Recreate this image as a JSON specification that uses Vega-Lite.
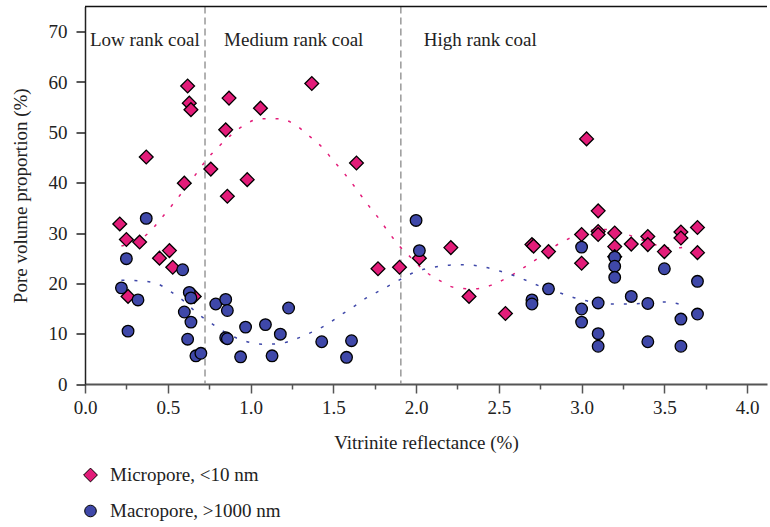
{
  "$schema": "https://vega.github.io/schema/vega-lite/v6.json",
  "width": 682,
  "height": 377.5,
  "autosize": {"type": "none"},
  "padding": {"left": 85, "top": 6.5, "right": 3, "bottom": 143},
  "config": {
    "font": "Liberation Serif",
    "view": {"stroke": null},
    "axis": {"labelFont": "Liberation Serif", "titleFont": "Liberation Serif", "titleFontWeight": "normal", "labelColor": "#222", "titleColor": "#222", "grid": false},
    "legend": {"labelFont": "Liberation Serif", "labelFontSize": 19, "labelColor": "#222", "labelLimit": 0}
  },
  "datasets": {
    "points": [
      {"x": 0.21, "y": 31.8, "type": "Micropore, <10 nm"},
      {"x": 0.25, "y": 28.7, "type": "Micropore, <10 nm"},
      {"x": 0.33, "y": 28.2, "type": "Micropore, <10 nm"},
      {"x": 0.26, "y": 17.4, "type": "Micropore, <10 nm"},
      {"x": 0.37, "y": 45.1, "type": "Micropore, <10 nm"},
      {"x": 0.45, "y": 25.0, "type": "Micropore, <10 nm"},
      {"x": 0.51, "y": 26.5, "type": "Micropore, <10 nm"},
      {"x": 0.53, "y": 23.2, "type": "Micropore, <10 nm"},
      {"x": 0.60, "y": 39.9, "type": "Micropore, <10 nm"},
      {"x": 0.62, "y": 59.2, "type": "Micropore, <10 nm"},
      {"x": 0.63, "y": 55.8, "type": "Micropore, <10 nm"},
      {"x": 0.64, "y": 54.5, "type": "Micropore, <10 nm"},
      {"x": 0.66, "y": 17.4, "type": "Micropore, <10 nm"},
      {"x": 0.76, "y": 42.7, "type": "Micropore, <10 nm"},
      {"x": 0.85, "y": 50.5, "type": "Micropore, <10 nm"},
      {"x": 0.86, "y": 37.3, "type": "Micropore, <10 nm"},
      {"x": 0.87, "y": 56.8, "type": "Micropore, <10 nm"},
      {"x": 0.98, "y": 40.6, "type": "Micropore, <10 nm"},
      {"x": 1.06, "y": 54.8, "type": "Micropore, <10 nm"},
      {"x": 1.37, "y": 59.7, "type": "Micropore, <10 nm"},
      {"x": 1.64, "y": 43.9, "type": "Micropore, <10 nm"},
      {"x": 1.77, "y": 22.9, "type": "Micropore, <10 nm"},
      {"x": 1.90, "y": 23.2, "type": "Micropore, <10 nm"},
      {"x": 2.02, "y": 25.0, "type": "Micropore, <10 nm"},
      {"x": 2.21, "y": 27.1, "type": "Micropore, <10 nm"},
      {"x": 2.32, "y": 17.4, "type": "Micropore, <10 nm"},
      {"x": 2.54, "y": 14.0, "type": "Micropore, <10 nm"},
      {"x": 2.70, "y": 27.7, "type": "Micropore, <10 nm"},
      {"x": 2.71, "y": 27.4, "type": "Micropore, <10 nm"},
      {"x": 2.80, "y": 26.3, "type": "Micropore, <10 nm"},
      {"x": 3.00, "y": 29.7, "type": "Micropore, <10 nm"},
      {"x": 3.00, "y": 24.0, "type": "Micropore, <10 nm"},
      {"x": 3.03, "y": 48.7, "type": "Micropore, <10 nm"},
      {"x": 3.10, "y": 34.4, "type": "Micropore, <10 nm"},
      {"x": 3.10, "y": 30.3, "type": "Micropore, <10 nm"},
      {"x": 3.10, "y": 29.7, "type": "Micropore, <10 nm"},
      {"x": 3.20, "y": 30.0, "type": "Micropore, <10 nm"},
      {"x": 3.20, "y": 27.3, "type": "Micropore, <10 nm"},
      {"x": 3.20, "y": 25.3, "type": "Micropore, <10 nm"},
      {"x": 3.30, "y": 27.8, "type": "Micropore, <10 nm"},
      {"x": 3.40, "y": 29.3, "type": "Micropore, <10 nm"},
      {"x": 3.40, "y": 27.7, "type": "Micropore, <10 nm"},
      {"x": 3.50, "y": 26.3, "type": "Micropore, <10 nm"},
      {"x": 3.60, "y": 30.2, "type": "Micropore, <10 nm"},
      {"x": 3.60, "y": 29.0, "type": "Micropore, <10 nm"},
      {"x": 3.70, "y": 31.1, "type": "Micropore, <10 nm"},
      {"x": 3.70, "y": 26.1, "type": "Micropore, <10 nm"},
      {"x": 0.22, "y": 19.1, "type": "Macropore, >1000 nm"},
      {"x": 0.25, "y": 24.9, "type": "Macropore, >1000 nm"},
      {"x": 0.26, "y": 10.5, "type": "Macropore, >1000 nm"},
      {"x": 0.32, "y": 16.7, "type": "Macropore, >1000 nm"},
      {"x": 0.37, "y": 32.9, "type": "Macropore, >1000 nm"},
      {"x": 0.59, "y": 22.7, "type": "Macropore, >1000 nm"},
      {"x": 0.60, "y": 14.3, "type": "Macropore, >1000 nm"},
      {"x": 0.62, "y": 8.9, "type": "Macropore, >1000 nm"},
      {"x": 0.63, "y": 18.2, "type": "Macropore, >1000 nm"},
      {"x": 0.64, "y": 17.1, "type": "Macropore, >1000 nm"},
      {"x": 0.64, "y": 12.3, "type": "Macropore, >1000 nm"},
      {"x": 0.67, "y": 5.6, "type": "Macropore, >1000 nm"},
      {"x": 0.70, "y": 6.1, "type": "Macropore, >1000 nm"},
      {"x": 0.79, "y": 15.9, "type": "Macropore, >1000 nm"},
      {"x": 0.85, "y": 16.8, "type": "Macropore, >1000 nm"},
      {"x": 0.86, "y": 14.6, "type": "Macropore, >1000 nm"},
      {"x": 0.85, "y": 9.2, "type": "Macropore, >1000 nm"},
      {"x": 0.86, "y": 9.0, "type": "Macropore, >1000 nm"},
      {"x": 0.94, "y": 5.4, "type": "Macropore, >1000 nm"},
      {"x": 0.97, "y": 11.3, "type": "Macropore, >1000 nm"},
      {"x": 1.09, "y": 11.8, "type": "Macropore, >1000 nm"},
      {"x": 1.13, "y": 5.6, "type": "Macropore, >1000 nm"},
      {"x": 1.18, "y": 9.9, "type": "Macropore, >1000 nm"},
      {"x": 1.23, "y": 15.1, "type": "Macropore, >1000 nm"},
      {"x": 1.43, "y": 8.4, "type": "Macropore, >1000 nm"},
      {"x": 1.58, "y": 5.3, "type": "Macropore, >1000 nm"},
      {"x": 1.61, "y": 8.6, "type": "Macropore, >1000 nm"},
      {"x": 2.00, "y": 32.5, "type": "Macropore, >1000 nm"},
      {"x": 2.02, "y": 26.5, "type": "Macropore, >1000 nm"},
      {"x": 2.70, "y": 16.7, "type": "Macropore, >1000 nm"},
      {"x": 2.70, "y": 15.9, "type": "Macropore, >1000 nm"},
      {"x": 2.80, "y": 18.9, "type": "Macropore, >1000 nm"},
      {"x": 3.00, "y": 27.2, "type": "Macropore, >1000 nm"},
      {"x": 3.00, "y": 14.9, "type": "Macropore, >1000 nm"},
      {"x": 3.00, "y": 12.3, "type": "Macropore, >1000 nm"},
      {"x": 3.10, "y": 16.1, "type": "Macropore, >1000 nm"},
      {"x": 3.10, "y": 10.0, "type": "Macropore, >1000 nm"},
      {"x": 3.10, "y": 7.5, "type": "Macropore, >1000 nm"},
      {"x": 3.20, "y": 25.2, "type": "Macropore, >1000 nm"},
      {"x": 3.20, "y": 23.4, "type": "Macropore, >1000 nm"},
      {"x": 3.20, "y": 21.2, "type": "Macropore, >1000 nm"},
      {"x": 3.30, "y": 17.4, "type": "Macropore, >1000 nm"},
      {"x": 3.40, "y": 16.0, "type": "Macropore, >1000 nm"},
      {"x": 3.40, "y": 8.4, "type": "Macropore, >1000 nm"},
      {"x": 3.50, "y": 22.9, "type": "Macropore, >1000 nm"},
      {"x": 3.60, "y": 12.9, "type": "Macropore, >1000 nm"},
      {"x": 3.60, "y": 7.5, "type": "Macropore, >1000 nm"},
      {"x": 3.70, "y": 20.4, "type": "Macropore, >1000 nm"},
      {"x": 3.70, "y": 13.9, "type": "Macropore, >1000 nm"}
    ],
    "trendMicro": [
      {"x": 0.22, "y": 27.4}, {"x": 0.39, "y": 30.2}, {"x": 0.46, "y": 32.9}, {"x": 0.535, "y": 35.9},
      {"x": 0.67, "y": 41.7}, {"x": 0.73, "y": 44.4}, {"x": 0.8, "y": 46.9}, {"x": 0.88, "y": 49.4},
      {"x": 0.96, "y": 51.4}, {"x": 1.06, "y": 52.7}, {"x": 1.17, "y": 52.7}, {"x": 1.27, "y": 51.5},
      {"x": 1.35, "y": 49.4}, {"x": 1.43, "y": 47.1}, {"x": 1.5, "y": 44.4}, {"x": 1.57, "y": 41.7},
      {"x": 1.64, "y": 38.7}, {"x": 1.7, "y": 36.0}, {"x": 1.77, "y": 33.1}, {"x": 1.835, "y": 30.1},
      {"x": 1.9, "y": 27.4}, {"x": 1.976, "y": 24.9}, {"x": 2.05, "y": 22.5}, {"x": 2.14, "y": 20.6},
      {"x": 2.23, "y": 19.2}, {"x": 2.35, "y": 18.9}, {"x": 2.45, "y": 19.6}, {"x": 2.55, "y": 21.1},
      {"x": 2.64, "y": 22.9}, {"x": 2.75, "y": 25.3}, {"x": 2.83, "y": 27.2}, {"x": 2.93, "y": 29.0},
      {"x": 3.03, "y": 30.4}, {"x": 3.14, "y": 30.7}, {"x": 3.24, "y": 30.1}, {"x": 3.35, "y": 28.8},
      {"x": 3.45, "y": 27.6}, {"x": 3.55, "y": 27.0}, {"x": 3.64, "y": 27.2}
    ],
    "trendMacro": [
      {"x": 0.22, "y": 20.6}, {"x": 0.33, "y": 20.5}, {"x": 0.43, "y": 20.0}, {"x": 0.52, "y": 18.3},
      {"x": 0.6, "y": 16.4}, {"x": 0.68, "y": 14.0}, {"x": 0.77, "y": 11.9}, {"x": 0.86, "y": 10.0},
      {"x": 0.96, "y": 8.6}, {"x": 1.07, "y": 7.9}, {"x": 1.17, "y": 8.0}, {"x": 1.27, "y": 8.9},
      {"x": 1.37, "y": 10.3}, {"x": 1.46, "y": 11.8}, {"x": 1.54, "y": 13.6}, {"x": 1.62, "y": 15.3},
      {"x": 1.7, "y": 17.1}, {"x": 1.79, "y": 18.7}, {"x": 1.89, "y": 20.5}, {"x": 1.99, "y": 22.2},
      {"x": 2.09, "y": 23.1}, {"x": 2.2, "y": 23.6}, {"x": 2.3, "y": 23.7}, {"x": 2.4, "y": 23.3},
      {"x": 2.51, "y": 22.4}, {"x": 2.61, "y": 21.3}, {"x": 2.76, "y": 19.3}, {"x": 2.87, "y": 18.1},
      {"x": 2.97, "y": 17.0}, {"x": 3.19, "y": 15.9}, {"x": 3.29, "y": 15.9}, {"x": 3.51, "y": 16.3},
      {"x": 3.61, "y": 15.7}
    ],
    "regions": [
      {"x": 0.03, "y": 68.3, "label": "Low rank coal"},
      {"x": 0.84, "y": 68.3, "label": "Medium rank coal"},
      {"x": 2.047, "y": 68.3, "label": "High rank coal"}
    ],
    "dividers": [{"x": 0.725}, {"x": 1.908}]
  },
  "layer": [
    {
      "data": {"name": "dividers"},
      "mark": {"type": "rule", "color": "#999", "strokeWidth": 1.5, "strokeDash": [7, 4]},
      "encoding": {"x": {"field": "x", "type": "quantitative"}}
    },
    {
      "data": {"name": "trendMicro"},
      "mark": {"type": "line", "color": "#E31C79", "strokeWidth": 1.5, "strokeDash": [3, 10], "interpolate": "monotone"},
      "encoding": {"x": {"field": "x", "type": "quantitative"}, "y": {"field": "y", "type": "quantitative"}}
    },
    {
      "data": {"name": "trendMacro"},
      "mark": {"type": "line", "color": "#3F48A9", "strokeWidth": 1.5, "strokeDash": [3, 10], "interpolate": "monotone"},
      "encoding": {"x": {"field": "x", "type": "quantitative"}, "y": {"field": "y", "type": "quantitative"}}
    },
    {
      "data": {"name": "points"},
      "mark": {"type": "point", "filled": true, "opacity": 1, "stroke": "#000", "strokeWidth": 1.3},
      "encoding": {
        "x": {
          "field": "x", "type": "quantitative",
          "scale": {"domain": [0, 4.12], "nice": false, "zero": false},
          "axis": {
            "title": "Vitrinite reflectance (%)",
            "values": [0, 0.25, 0.5, 0.75, 1, 1.25, 1.5, 1.75, 2, 2.25, 2.5, 2.75, 3, 3.25, 3.5, 3.75, 4],
            "labelExpr": "datum.value % 0.5 == 0 ? format(datum.value, '.1f') : ''",
            "tickSize": {"condition": {"test": "datum.value % 0.5 == 0", "value": 9}, "value": 5},
            "labelPadding": 5, "labelFontSize": 19, "titleFontSize": 19, "titlePadding": 16,
            "domainColor": "#555", "domainWidth": 2, "tickColor": "#555", "tickWidth": 1.5,
            "labelFlush": false, "labelOverlap": false
          }
        },
        "y": {
          "field": "y", "type": "quantitative",
          "scale": {"domain": [0, 75], "nice": false},
          "axis": {
            "title": "Pore volume proportion (%)",
            "values": [0, 5, 10, 15, 20, 25, 30, 35, 40, 45, 50, 55, 60, 65, 70],
            "labelExpr": "datum.value % 10 == 0 ? format(datum.value, 'd') : ''",
            "tickSize": {"condition": {"test": "datum.value % 10 == 0", "value": 9}, "value": 5},
            "labelPadding": 9, "labelFontSize": 19, "titleFontSize": 19, "titlePadding": 18,
            "domainColor": "#222", "domainWidth": 1.5, "tickColor": "#222", "tickWidth": 1.5,
            "labelFlush": false, "labelOverlap": false
          }
        },
        "shape": {
          "field": "type", "type": "nominal",
          "scale": {"domain": ["Micropore, <10 nm", "Macropore, >1000 nm"], "range": ["diamond", "circle"]},
          "legend": {"title": null, "orient": "none", "legendX": -4, "legendY": 459, "rowPadding": 16, "labelOffset": 10, "labelLimit": 0, "symbolSize": 160, "symbolStrokeColor": "#000", "symbolStrokeWidth": 1}
        },
        "color": {
          "field": "type", "type": "nominal",
          "scale": {"domain": ["Micropore, <10 nm", "Macropore, >1000 nm"], "range": ["#E31C79", "#3F48A9"]},
          "legend": {"title": null, "orient": "none", "legendX": -4, "legendY": 459, "rowPadding": 16, "labelOffset": 10, "labelLimit": 0, "symbolSize": 160, "symbolStrokeColor": "#000", "symbolStrokeWidth": 1}
        },
        "size": {
          "field": "type", "type": "nominal",
          "scale": {"domain": ["Micropore, <10 nm", "Macropore, >1000 nm"], "range": [190, 135]},
          "legend": null
        }
      }
    },
    {
      "data": {"values": [{}]},
      "mark": {"type": "rule", "color": "#111", "strokeWidth": 1.5},
      "encoding": {"y": {"datum": 75}}
    },
    {
      "data": {"name": "regions"},
      "mark": {"type": "text", "align": "left", "baseline": "middle", "fontSize": 19, "font": "Liberation Serif", "color": "#222"},
      "encoding": {"x": {"field": "x", "type": "quantitative"}, "y": {"field": "y", "type": "quantitative"}, "text": {"field": "label", "type": "nominal"}}
    }
  ]
}
